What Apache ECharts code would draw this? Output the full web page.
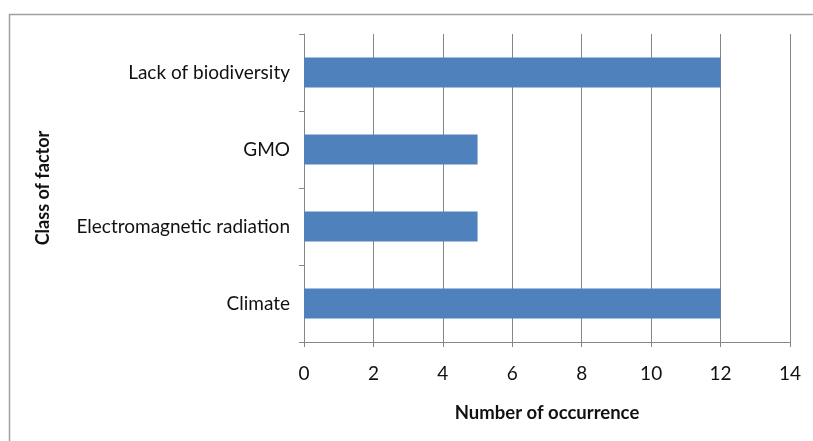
<!DOCTYPE html>
<html>
<head>
<meta charset="utf-8">
<script src="https://cdn.jsdelivr.net/npm/echarts@6/dist/echarts.min.js"></script>
<style>
  html, body { margin: 0; padding: 0; background: #fff; }
  #chart { width: 813px; height: 441px; }
</style>
</head>
<body>
<div id="chart"></div>
<script>
// 类别（从下到上）
const categories = ['Climate', 'Electromagnetic radiation', 'GMO', 'Lack of biodiversity'];
// 出现次数
const occurrences = [12, 5, 5, 12];
// 横轴刻度
const xTicks = [0, 2, 4, 6, 8, 10, 12, 14];

const myChart = echarts.init(document.getElementById('chart'));

myChart.setOption({
    animation: false,
    backgroundColor: '#fff',
    graphic: [
        {
            type: 'rect',
            shape: { x: 9.5, y: 14.5, width: 830, height: 440 },
            style: { fill: 'none', stroke: '#a0a0a0', lineWidth: 1.5 },
            silent: true
        }
    ],
    grid: {
        left: 304,
        right: 23,
        top: 34,
        bottom: 99
    },
    xAxis: {
        type: 'value',
        min: xTicks[0],
        max: xTicks[xTicks.length - 1],
        interval: 2,
        name: 'Number of occurrence',
        nameLocation: 'middle',
        nameGap: 62,
        nameTextStyle: {
            fontFamily: 'Lato',
            fontWeight: 'bold',
            fontSize: 18.5,
            color: '#111'
        },
        axisLine: { show: true, lineStyle: { color: '#868686', width: 1 } },
        axisTick: { show: true, length: 5, lineStyle: { color: '#868686' } },
        axisLabel: {
            margin: 22,
            fontFamily: 'Lato',
            fontSize: 19,
            color: '#111'
        },
        splitLine: { show: true, lineStyle: { color: '#868686', width: 1 } }
    },
    yAxis: {
        type: 'category',
        data: categories,
        name: 'Class of factor',
        nameLocation: 'middle',
        nameGap: 252,
        nameRotate: 90,
        nameTextStyle: {
            fontFamily: 'Lato',
            fontWeight: 'bold',
            fontSize: 18,
            color: '#111'
        },
        axisLine: { show: true, lineStyle: { color: '#868686', width: 1 } },
        axisTick: { show: true, length: 5, lineStyle: { color: '#868686' } },
        axisLabel: {
            margin: 14,
            fontFamily: 'Lato',
            fontSize: 19,
            color: '#111'
        }
    },
    series: [
        {
            type: 'bar',
            data: occurrences,
            barWidth: 30,
            itemStyle: { color: '#4f81bd' }
        }
    ]
});
</script>
</body>
</html>
